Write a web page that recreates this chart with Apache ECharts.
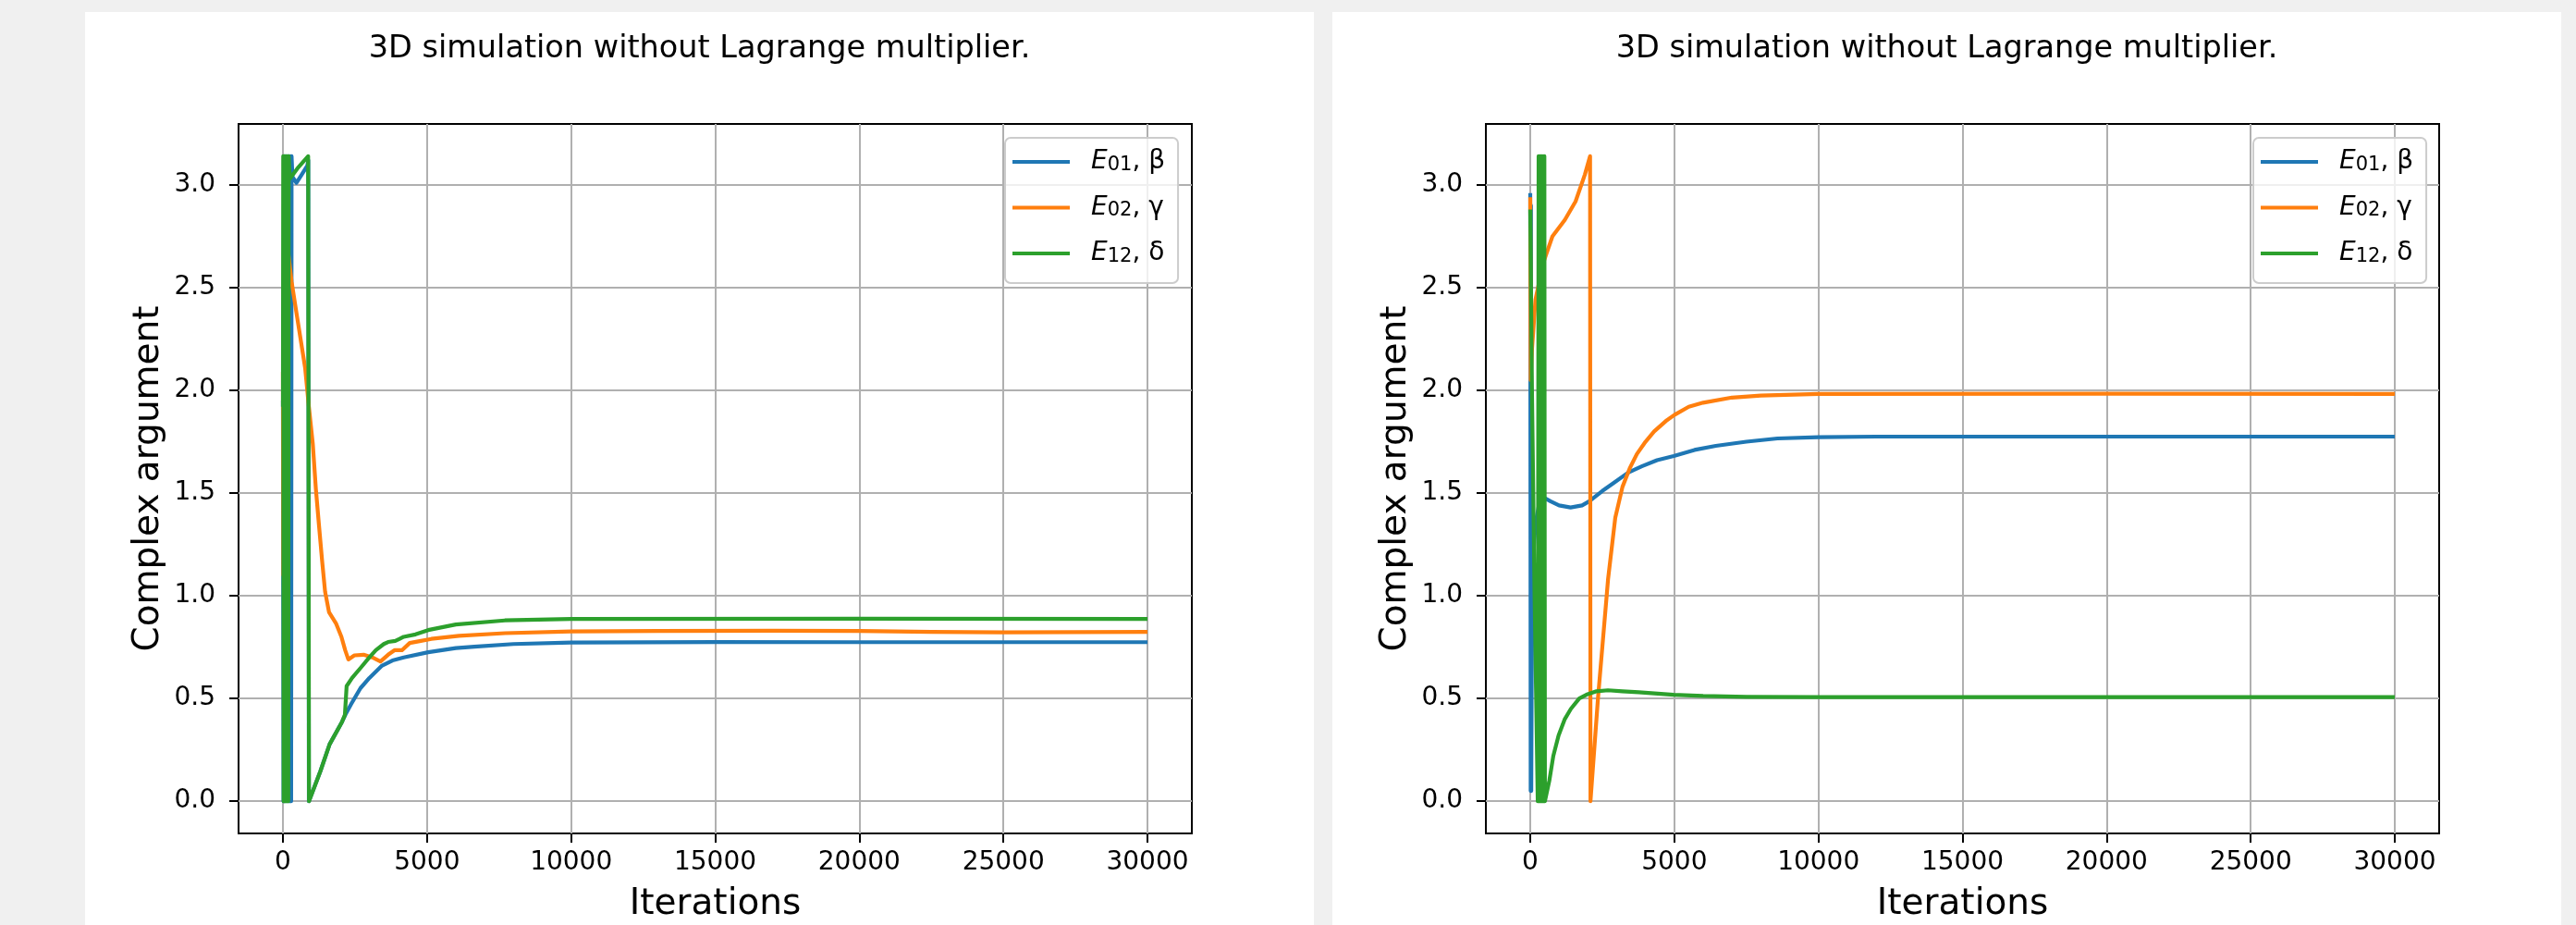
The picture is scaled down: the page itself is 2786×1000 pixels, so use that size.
<!DOCTYPE html>
<html>
<head>
<meta charset="utf-8">
<script src="https://cdn.jsdelivr.net/npm/echarts@6/dist/echarts.min.js"></script>
<style>
body { margin: 0; background: #f0f0f0; }
.panel { position: absolute; top: 13px; height: 987px; width: 1329px; background: #fff; }
#chart { position: absolute; left: 0; top: 0; width: 2786px; height: 1000px; }
</style>
</head>
<body>
<div class="panel" style="left:92px"></div>
<div class="panel" style="left:1441px"></div>
<div id="chart"></div>
<script>
var FONT = 'DejaVu Sans';
var chartTitle = '3D simulation without Lagrange multiplier.';
var iterTicks = [0, 5000, 10000, 15000, 20000, 25000, 30000];
var argTicks = [0, 0.5, 1, 1.5, 2, 2.5, 3];
var seriesNames = ['E01, β', 'E02, γ', 'E12, δ'];
var seriesColors = ['#1f77b4', '#ff7f0e', '#2ca02c'];

// left panel [iteration, argument]
var leftBeta = [[0,1.95],[20,0.0],[45,3.14],[70,0.0],[100,3.14],[130,0.0],[160,3.14],[190,0.0],[215,3.14],[240,0.0],[265,3.14],[285,0.0],[300,3.14],[330,3.04],[470,3.01],[650,3.05],[845,3.094],[880,3.12],[900,0.0],[1300,0.146],[1620,0.277],[2050,0.386],[2200,0.43],[2370,0.473],[2690,0.55],[3000,0.60],[3440,0.66],[3800,0.685],[4190,0.70],[5040,0.725],[6000,0.745],[6640,0.752],[8000,0.765],[10000,0.772],[15000,0.775],[20000,0.774],[25000,0.774],[30000,0.774]];
var leftGamma = [[0,2.09],[15,1.1],[40,1.9],[90,2.55],[140,2.72],[300,2.53],[500,2.35],[770,2.11],[900,1.92],[1036,1.74],[1143,1.52],[1250,1.345],[1360,1.17],[1463,1.02],[1600,0.92],[1840,0.866],[2030,0.80],[2160,0.735],[2270,0.69],[2480,0.71],[2800,0.713],[3100,0.70],[3385,0.68],[3650,0.713],[3870,0.735],[4130,0.735],[4400,0.77],[4700,0.778],[5150,0.79],[6110,0.805],[7710,0.818],[10000,0.826],[13000,0.829],[17000,0.83],[20000,0.829],[22500,0.824],[25000,0.822],[30000,0.824]];
var leftDelta = [[0,1.92],[10,3.14],[25,0.0],[45,3.14],[65,0.0],[85,3.14],[105,0.0],[125,3.14],[145,0.0],[165,3.14],[185,0.0],[200,3.14],[240,3.03],[500,3.08],[875,3.14],[905,0.0],[1300,0.146],[1620,0.277],[2050,0.386],[2150,0.42],[2210,0.56],[2400,0.60],[2690,0.648],[3000,0.70],[3225,0.735],[3500,0.765],[3650,0.775],[3900,0.78],[4050,0.79],[4190,0.80],[4600,0.812],[5040,0.833],[6000,0.86],[7700,0.88],[10000,0.887],[20000,0.888],[30000,0.887]];

// right panel
var rightBeta = [[0,2.96],[15,0.05],[25,2.9],[35,0.05],[50,0.6],[75,1.0],[110,1.2],[180,1.35],[300,1.44],[450,1.48],[700,1.46],[1000,1.44],[1400,1.43],[1800,1.44],[2050,1.46],[2500,1.51],[2900,1.55],[3400,1.60],[3870,1.63],[4400,1.66],[4980,1.68],[5700,1.71],[6440,1.73],[7500,1.75],[8580,1.766],[10000,1.772],[12000,1.775],[20000,1.775],[30000,1.775]];
var rightGamma = [[0,2.94],[15,2.05],[60,2.2],[180,2.44],[450,2.62],[770,2.75],[1200,2.83],[1573,2.92],[1894,3.05],[2076,3.14],[2090,0.0],[2350,0.5],[2700,1.08],[2950,1.38],[3200,1.53],[3450,1.62],[3700,1.69],[4000,1.75],[4300,1.80],[4700,1.85],[5000,1.88],[5500,1.92],[6000,1.94],[7000,1.965],[8000,1.975],[10000,1.983],[20000,1.984],[30000,1.983]];
var rightDelta = [[0,2.88],[60,2.0],[150,1.0],[260,0.0],[290,3.14],[310,0.0],[330,3.14],[350,0.0],[370,3.14],[390,0.0],[410,3.14],[430,0.0],[450,3.14],[470,0.0],[490,3.14],[510,0.0],[663,0.10],[800,0.22],[984,0.32],[1200,0.40],[1412,0.45],[1700,0.50],[1947,0.518],[2300,0.535],[2696,0.54],[3200,0.535],[3766,0.53],[4975,0.518],[6000,0.512],[7511,0.508],[10000,0.507],[30000,0.507]];

var myChart = echarts.init(document.getElementById('chart'));

function makeGrid(left) {
    return {
        left: left, top: 134, width: 1031, height: 767,
        show: true, borderColor: '#000', borderWidth: 2,
        outerBoundsMode: 'none'
    };
}

function makeX(i) {
    return {
        type: 'value', gridIndex: i, min: -1540, max: 31540, splitNumber: 7,
        name: 'Iterations', nameLocation: 'middle', nameGap: 57,
        nameTextStyle: { fontSize: 39, color: '#000', fontFamily: FONT },
        axisLine: { show: false, onZero: false },
        axisTick: { show: true, length: 10, customValues: iterTicks, lineStyle: { color: '#000', width: 2 } },
        axisLabel: {
            customValues: iterTicks, margin: 18, fontSize: 28, color: '#000', fontFamily: FONT,
            formatter: function (v) { return String(v); }
        },
        splitLine: { show: true, lineStyle: { color: '#b0b0b0', width: 2 } }
    };
}

function makeY(i) {
    return {
        type: 'value', gridIndex: i, min: -0.157, max: 3.297, splitNumber: 7,
        name: 'Complex argument', nameLocation: 'middle', nameGap: 78,
        nameTextStyle: { fontSize: 39, color: '#000', fontFamily: FONT },
        axisLine: { show: false, onZero: false },
        axisTick: { show: true, length: 10, customValues: argTicks, lineStyle: { color: '#000', width: 2 } },
        axisLabel: {
            customValues: argTicks, margin: 25, fontSize: 28, color: '#000', fontFamily: FONT,
            formatter: function (v) { return v.toFixed(1); }
        },
        splitLine: { show: true, lineStyle: { color: '#b0b0b0', width: 2 } }
    };
}

function makeLegend(left) {
    return {
        data: seriesNames, orient: 'vertical', left: left, top: 149,
        icon: 'rect', itemWidth: 62, itemHeight: 4, itemGap: 21.5,
        padding: [12, 14, 18, 8],
        backgroundColor: 'rgba(255,255,255,0.8)', borderColor: '#cccccc', borderWidth: 2, borderRadius: 6,
        selectedMode: false,
        formatter: function (name) {
            return '{g| }{e|E}{s|' + name.substr(1, 2) + '}{t|' + name.substr(3) + '}';
        },
        textStyle: {
            fontFamily: FONT, fontSize: 28, color: '#000',
            rich: {
                g: { width: 18, fontSize: 28, lineHeight: 28 },
                e: { fontFamily: FONT, fontStyle: 'italic', fontSize: 28, lineHeight: 28, color: '#000' },
                s: { fontFamily: FONT, fontSize: 21, lineHeight: 16, verticalAlign: 'bottom', color: '#000' },
                t: { fontFamily: FONT, fontSize: 28, lineHeight: 28, color: '#000' }
            }
        }
    };
}

function makeSeries(data, k, gi) {
    return {
        type: 'line', name: seriesNames[k], xAxisIndex: gi, yAxisIndex: gi,
        data: data, showSymbol: false, symbol: 'none',
        lineStyle: { color: seriesColors[k], width: 4.2, join: 'round', cap: 'butt' },
        itemStyle: { color: seriesColors[k] },
        animation: false
    };
}

var option = {
    animation: false,
    grid: [makeGrid(258), makeGrid(1607)],
    xAxis: [makeX(0), makeX(1)],
    yAxis: [makeY(0), makeY(1)],
    legend: [makeLegend(1087), makeLegend(2437)],
    graphic: [
        { type: 'text', x: 756.5, y: 53, style: { text: chartTitle, fontSize: 33.5, fontFamily: FONT, fill: '#000', align: 'center', verticalAlign: 'middle' } },
        { type: 'text', x: 2105.5, y: 53, style: { text: chartTitle, fontSize: 33.5, fontFamily: FONT, fill: '#000', align: 'center', verticalAlign: 'middle' } }
    ],
    series: [
        makeSeries(leftBeta, 0, 0),
        makeSeries(leftGamma, 1, 0),
        makeSeries(leftDelta, 2, 0),
        makeSeries(rightBeta, 0, 1),
        makeSeries(rightGamma, 1, 1),
        makeSeries(rightDelta, 2, 1)
    ]
};
myChart.setOption(option);
</script>
</body>
</html>
